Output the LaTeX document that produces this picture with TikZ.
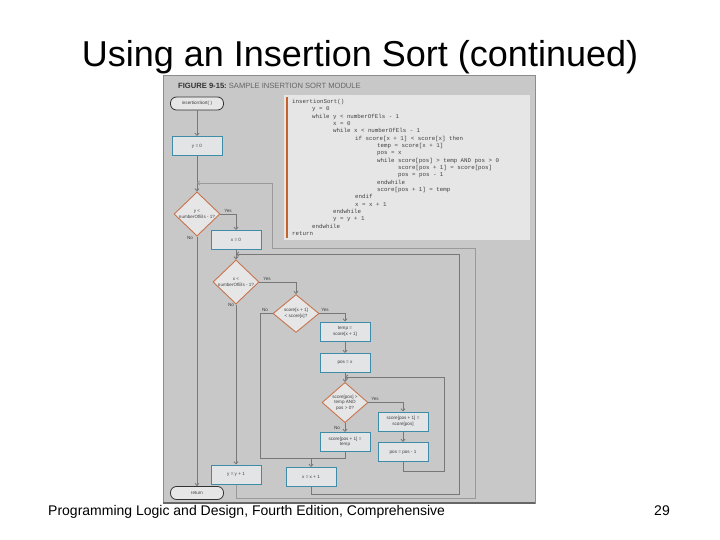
\documentclass[tikz,border=0pt]{standalone}
\usepackage{fontspec}
\setmainfont{Liberation Sans}
\newfontfamily\codefont{Liberation Mono}
\usetikzlibrary{shapes.geometric,arrows.meta,shadows}
\definecolor{panel}{HTML}{C8C8C8}
\definecolor{codefill}{HTML}{E6E6E6}
\definecolor{codebar}{HTML}{C4632C}
\definecolor{boxfill}{HTML}{E2E4E6}
\definecolor{boxline}{HTML}{3E8CA8}
\definecolor{dline}{HTML}{C7744E}
\definecolor{dfill}{HTML}{E6E6E6}
\definecolor{lgray}{HTML}{787878}
\definecolor{faint}{HTML}{9A9A9A}
\definecolor{txt}{HTML}{404040}
\tikzset{
  small/.style={font=\fontsize{4.6}{5.4}\selectfont, text=txt},
  procbox/.style={small, draw=boxline, line width=1pt, fill=boxfill, minimum width=50pt, minimum height=19pt, inner sep=0pt, align=center,
    drop shadow={shadow xshift=0.7pt, shadow yshift=-0.7pt, fill=black!25}},
  decbox/.style={small, shape=diamond, draw=dline, line width=0.9pt, fill=dfill, minimum width=46pt, minimum height=38pt, inner sep=0pt, align=center},
  termbox/.style={small, draw=black!80, line width=0.8pt, fill=dfill, rounded corners=6pt, minimum width=53pt, minimum height=13pt, inner sep=0pt},
  flow/.style={draw=lgray, line width=0.8pt},
  arr/.style={flow, -{Straight Barb[length=2.2pt,width=4pt]}},
  lbl/.style={small, inner sep=0pt},
  codeline/.style={anchor=base west, inner sep=0pt, font=\codefont\fontsize{5.8}{6}\selectfont, text=txt}
}
\begin{document}
\begin{tikzpicture}[x=1pt,y=-1pt]
\useasboundingbox (0,0) rectangle (720,540);
\fill[white] (0,0) rectangle (720,540);
% title and footer
\node[anchor=base, inner sep=0pt] (title) at (360,67) {\fontsize{36}{40}\selectfont Using an Insertion Sort (continued)};
\node[anchor=base west, inner sep=0pt] (foot) at (48,515) {\fontsize{14}{16}\selectfont Programming Logic and Design, Fourth Edition, Comprehensive};
\node[anchor=base east, inner sep=0pt] (page) at (670,515) {\fontsize{14}{16}\selectfont 29};
% panel
\fill[panel] (163,75) rectangle (535,503);
\draw[black!45, line width=0.6pt] (163,75) rectangle (535,503);
\draw[black!60, line width=1.2pt] (163,503) -- (535,503);
\node[anchor=base west, inner sep=0pt, font=\fontsize{7.6}{8}\selectfont] (fig) at (178,89) {\textcolor{black!80}{\textbf{FIGURE 9-15:}}\ \textcolor{black!60}{SAMPLE INSERTION SORT MODULE}};
% code box
\fill[codefill] (284,95) rectangle (530,240);
\fill[codebar] (285.5,97) rectangle (288,238);
\node[codeline] (c1) at (292,103.5) {insertionSort()};
\node[codeline] (c2) at (312,110.8) {y = 0};
\node[codeline] (c3) at (312,118.2) {while y < numberOfEls - 1};
\node[codeline] (c4) at (333,125.5) {x = 0};
\node[codeline] (c5) at (333,132.8) {while x < numberOfEls - 1};
\node[codeline] (c6) at (355,140.2) {if score[x + 1] < score[x] then};
\node[codeline] (c7) at (377,147.5) {temp = score[x + 1]};
\node[codeline] (c8) at (377,154.8) {pos = x};
\node[codeline] (c9) at (377,162.1) {while score[pos] > temp AND pos > 0};
\node[codeline] (c10) at (398,169.5) {score[pos + 1] = score[pos]};
\node[codeline] (c11) at (398,176.8) {pos = pos - 1};
\node[codeline] (c12) at (377,184.1) {endwhile};
\node[codeline] (c13) at (377,191.5) {score[pos + 1] = temp};
\node[codeline] (c14) at (355,198.8) {endif};
\node[codeline] (c15) at (355,206.1) {x = x + 1};
\node[codeline] (c16) at (333,213.5) {endwhile};
\node[codeline] (c17) at (333,220.8) {y = y + 1};
\node[codeline] (c18) at (312,228.1) {endwhile};
\node[codeline] (c19) at (292,235.4) {return};
% flowchart nodes
\node[termbox] (t1) at (197,103.5) {insertionSort( )};
\node[procbox] (y0) at (197,146) {y = 0};
\node[decbox] (d1) at (197,214) {y <\\ numberOfEls - 1?};
\node[procbox] (x0) at (236,240) {x = 0};
\node[decbox] (d2) at (236,282) {x <\\ numberOfEls - 1?};
\node[decbox] (d3) at (296,313.5) {score[x + 1]\\ < score[x]?};
\node[procbox] (tmp) at (345,331.5) {temp =\\ score[x + 1]};
\node[procbox] (px) at (345,363) {pos = x};
\node[decbox] (d4) at (345,402.5) {score[pos] >\\ temp AND\\ pos > 0?};
\node[procbox] (sh) at (403,421.5) {score[pos + 1] =\\ score[pos]};
\node[procbox] (pm) at (403,452) {pos = pos - 1};
\node[procbox] (st) at (345,442) {score[pos + 1] =\\ temp};
\node[procbox] (xi) at (311,477) {x = x + 1};
\node[procbox] (yi) at (236,474.5) {y = y + 1};
\node[termbox] (ret) at (197,493) {return};
% junction coordinates
\coordinate (m1) at (260,458);
\coordinate (a1) at (444,471);
\coordinate (a2) at (444,377);
\coordinate (b1) at (459,494);
\coordinate (b2) at (459,254);
\coordinate (o1) at (475,498);
\coordinate (o2) at (475,248);
\coordinate (o3) at (272,248);
\coordinate (o4) at (272,183);
% connectors
\draw[arr] (t1) -- (y0);
\draw[arr] (y0) -- (d1);
\draw[arr] (d1.east) -| (x0.north);
\draw[arr] (d1.south) -- (ret.north);
\draw[arr] (x0) -- (d2);
\draw[arr] (d2.east) -| (d3.north);
\draw[arr] (d2.south) -- (yi.north);
\draw[arr] (d3.east) -| (tmp.north);
\draw[flow] (d3.west) -| (m1);
\draw[flow] (st.south) |- (m1);
\draw[arr] (xi.north |- m1) -- (xi.north);
\draw[arr] (tmp) -- (px);
\draw[arr] (px) -- (d4);
\draw[arr] (d4.east) -| (sh.north);
\draw[arr] (d4.south) -- (st.north);
\draw[arr] (sh) -- (pm);
\draw[arr] (pm.south) |- (a1) -- (a2) -- (d4.north |- a2);
\draw[arr] (xi.south) |- (b1) -- (b2) -- (d2.north |- b2);
\draw[arr, draw=faint] (yi.south) |- (o1) -- (o2) -- (o3) -- (o4) -- (d1.north |- o4);
% labels
\node[lbl] (ly1) at (228,211) {Yes};
\node[lbl] (ln1) at (190,238) {No};
\node[lbl] (ly2) at (267,278.5) {Yes};
\node[lbl] (ln2) at (231,305) {No};
\node[lbl] (ln3) at (265,310) {No};
\node[lbl] (ly3) at (325,309.5) {Yes};
\node[lbl] (ly4) at (375,399) {Yes};
\node[lbl] (ln4) at (337,427.5) {No};
\end{tikzpicture}
\end{document}
